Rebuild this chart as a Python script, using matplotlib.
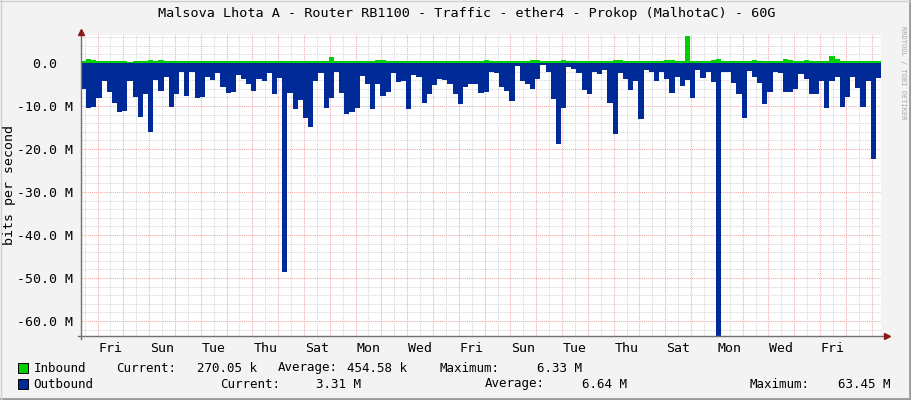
import matplotlib
matplotlib.use('Agg')
import matplotlib.pyplot as plt
from matplotlib.patches import Rectangle
from matplotlib.lines import Line2D
import numpy as np

plt.rcParams['font.family'] = ['DejaVu Sans Mono']

title = "Malsova Lhota A - Router RB1100 - Traffic - ether4 - Prokop (MalhotaC) - 60G"
day_labels = ["Fri", "Sun", "Tue", "Thu", "Sat", "Mon", "Wed", "Fri",
              "Sun", "Tue", "Thu", "Sat", "Mon", "Wed", "Fri"]
y_ticks = [0, -10, -20, -30, -40, -50, -60]
y_tick_labels = ["0.0  ", "-10.0 M", "-20.0 M", "-30.0 M", "-40.0 M", "-50.0 M", "-60.0 M"]

# Mbit/s, one sample every 0.2 day (31 days)
inbound = [0.5, 0.9, 0.8, 0.5, 0.4, 0.4, 0.4, 0.55, 0.55, 0.3, 0.4, 0.4, 0.4,
           0.7, 0.4, 0.7, 0.4, 0.4, 0.4, 0.4, 0.4, 0.4, 0.4, 0.4, 0.4, 0.4,
           0.4, 0.5, 0.4, 0.4, 0.4, 0.4, 0.4, 0.4, 0.4, 0.4, 0.4, 0.5, 0.4,
           0.4, 0.4, 0.4, 0.4, 0.4, 0.4, 0.4, 0.4, 0.4, 1.4, 0.4, 0.4, 0.4,
           0.4, 0.4, 0.4, 0.4, 0.4, 0.8, 0.6, 0.4, 0.4, 0.4, 0.4, 0.4, 0.4,
           0.4, 0.4, 0.4, 0.4, 0.4, 0.4, 0.4, 0.4, 0.4, 0.4, 0.4, 0.4, 0.4,
           0.6, 0.4, 0.4, 0.4, 0.4, 0.4, 0.4, 0.4, 0.4, 0.6, 0.6, 0.4, 0.4,
           0.4, 0.4, 0.6, 0.4, 0.4, 0.4, 0.4, 0.4, 0.4, 0.4, 0.4, 0.4, 0.8,
           0.7, 0.4, 0.4, 0.4, 0.4, 0.4, 0.4, 0.4, 0.4, 0.6, 0.6, 0.4, 0.4,
           6.33, 0.4, 0.4, 0.4, 0.4, 0.6, 0.9, 0.4, 0.4, 0.4, 0.4, 0.4, 0.4,
           0.6, 0.4, 0.4, 0.4, 0.4, 0.4, 1.0, 0.8, 0.4, 0.4, 0.6, 0.4, 0.4,
           0.4, 0.4, 1.6, 1.0, 0.4, 0.4, 0.4, 0.4, 0.4, 0.4, 0.4, 0.4]
outbound = [6.0, 10.5, 10.2, 8.1, 4.1, 6.7, 9.2, 11.5, 11.2, 4.1, 7.8, 12.6, 7.3,
            16.1, 4.0, 6.4, 3.2, 10.3, 7.3, 2.0, 7.6, 2.0, 8.1, 7.8, 3.2, 4.0,
            2.4, 5.5, 6.9, 6.7, 2.8, 3.7, 4.9, 6.4, 3.7, 4.1, 2.4, 7.1, 3.4,
            48.6, 6.9, 10.8, 8.6, 12.7, 15.0, 4.3, 2.4, 10.4, 8.1, 2.2, 6.9, 11.9,
            11.3, 10.5, 3.0, 5.0, 10.8, 4.9, 7.6, 6.7, 2.4, 4.5, 4.3, 10.8, 2.8,
            3.2, 9.2, 7.1, 5.1, 3.8, 4.0, 5.0, 7.1, 9.6, 5.5, 4.9, 5.0, 6.9,
            6.7, 2.2, 2.4, 5.5, 6.5, 8.8, 0.7, 4.1, 5.0, 6.0, 3.7, 0.5, 2.2,
            8.4, 18.9, 10.4, 1.0, 1.5, 2.4, 6.3, 7.3, 2.0, 2.6, 1.6, 9.4, 16.4,
            2.4, 3.7, 6.3, 4.1, 13.1, 1.6, 2.2, 4.3, 2.0, 3.7, 6.9, 3.2, 5.3,
            4.0, 8.1, 1.6, 3.6, 2.0, 4.5, 63.45, 2.0, 2.0, 4.7, 7.1, 12.9, 1.8,
            3.2, 4.7, 9.6, 6.8, 2.2, 2.4, 6.8, 6.7, 6.1, 2.6, 3.7, 7.3, 7.3,
            4.3, 10.5, 4.2, 3.2, 10.3, 7.8, 3.2, 5.7, 10.2, 4.3, 22.3, 3.4]

step = 0.2
n = len(outbound)
edges = np.arange(n + 1) * step

W, H = 911, 400
def fx(px):
    return px / W
def fy(py):
    return 1 - py / H

fig = plt.figure(figsize=(9.11, 4.0), dpi=100)
fig.patch.set_facecolor('#F3F3F3')
ax = fig.add_axes([fx(81), fy(336), 800 / W, 301 / H])
ax.set_facecolor('white')
ax.set_xlim(0, n * step)
ax.set_ylim(-63.49, 6.51)

# grid: gray every 12h / 2M, red at midnight / 10M
dots = (0, (1, 1))
for v in np.arange(6, -63, -2):
    col = '#F2A8A8' if v % 10 == 0 else '#D6D6D6'
    ax.axhline(v, color=col, lw=0.75, ls=dots, zorder=0)
for k in range(62):
    xv = 0.14 + 0.5 * k
    col = '#F2A8A8' if k % 2 == 1 else '#D6D6D6'
    ax.axvline(xv, color=col, lw=0.75, ls=dots, zorder=0)

ax.fill_between(edges, 0, np.append(inbound, inbound[-1]), step='post',
                color='#00CF00', lw=0, zorder=2)
ax.fill_between(edges, 0, -np.append(outbound, outbound[-1]), step='post',
                color='#002A97', lw=0, zorder=2)

for s in ax.spines.values():
    s.set_visible(False)

fs = 9.5
ax.set_yticks(y_ticks)
ax.set_yticklabels(y_tick_labels, fontsize=fs)
ax.set_xticks([1.14 + 2 * i for i in range(len(day_labels))])
ax.set_xticklabels(day_labels, fontsize=fs)
ax.tick_params(axis='y', length=0, pad=6)
ax.tick_params(axis='x', length=0, pad=4)

# axis lines + arrows
axc = '#707070'
fig.add_artist(Line2D([fx(81), fx(81)], [fy(339), fy(33)], color=axc, lw=1.0))
fig.add_artist(Line2D([fx(78), fx(886)], [fy(336), fy(336)], color=axc, lw=1.0))
fig.add_artist(Line2D([fx(81)], [fy(32)], marker='^', ms=5, color='#8B1A1A', lw=0))
fig.add_artist(Line2D([fx(887)], [fy(336)], marker='>', ms=5, color='#8B1A1A', lw=0))

fig.text(fx(467), fy(14), title, ha='center', va='center', fontsize=9.7)
fig.text(fx(10), fy(185), 'bits per second', rotation=90, ha='center', va='center', fontsize=fs)
fig.text(fx(903), fy(26), 'RRDTOOL / TOBI OETIKER', rotation=-90, ha='center', va='top',
         fontsize=5, color='#A8A8A8')

# legend
lfs = 9
fig.add_artist(Rectangle((fx(17.5), fy(372.5)), 10 / W, 10 / H, transform=fig.transFigure,
                         facecolor='#00CF00', edgecolor='black', lw=0.7))
fig.add_artist(Rectangle((fx(17.5), fy(388.5)), 10 / W, 10 / H, transform=fig.transFigure,
                         facecolor='#002A97', edgecolor='black', lw=0.7))
row1 = [(33.5, "Inbound"), (116, "Current:"), (197, "270.05 k"), (278, "Average:"),
        (347, "454.58 k"), (439, "Maximum:"), (537, "6.33 M")]
row2 = [(33.5, "Outbound"), (220, "Current:"), (316, "3.31 M"), (485, "Average:"),
        (582, "6.64 M"), (750, "Maximum:"), (838, "63.45 M")]
for px, t in row1:
    fig.text(fx(px), fy(368), t, ha='left', va='center', fontsize=lfs)
for px, t in row2:
    fig.text(fx(px), fy(384), t, ha='left', va='center', fontsize=lfs)

# image border
fig.add_artist(Line2D([0, 1], [fy(399), fy(399)], color='#9A9A9A', lw=2))
fig.add_artist(Line2D([fx(910), fx(910)], [0, 1], color='#9A9A9A', lw=2))
fig.add_artist(Line2D([0, 1], [fy(0.5), fy(0.5)], color='#D0D0D0', lw=1))
fig.add_artist(Line2D([fx(0.5), fx(0.5)], [0, 1], color='#D0D0D0', lw=1))

fig.savefig('out.png', dpi=100, facecolor=fig.get_facecolor())
